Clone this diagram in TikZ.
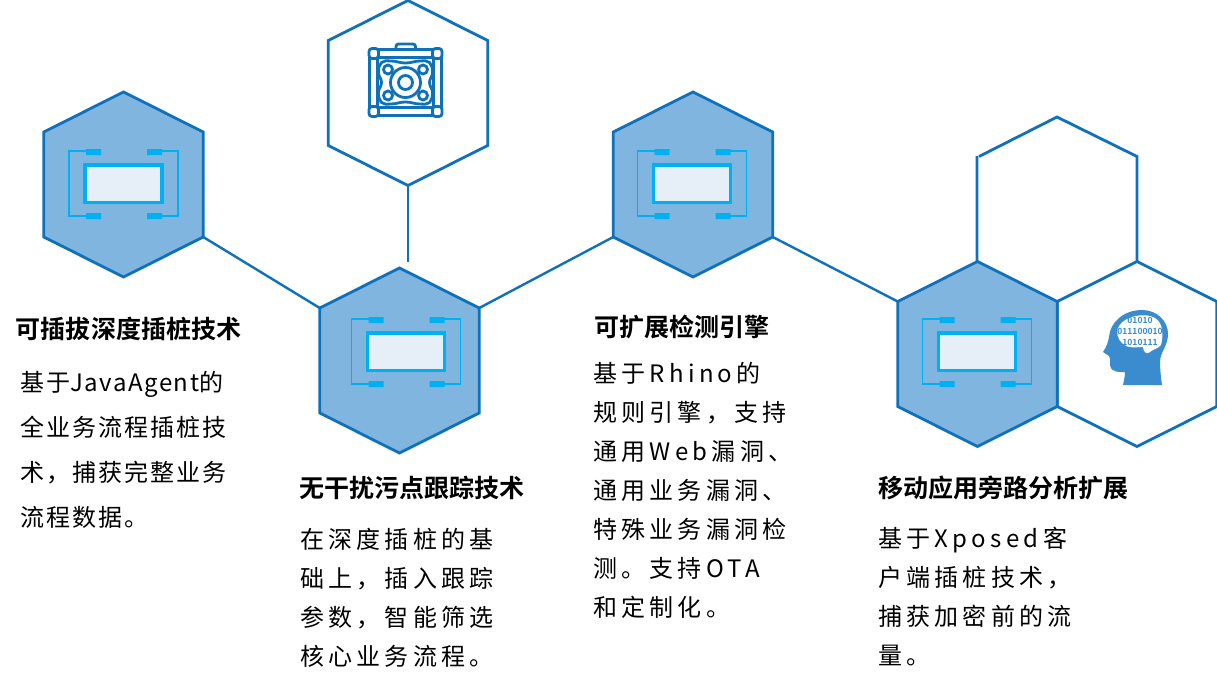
\documentclass[tikz,border=0pt]{standalone}
\usepackage{fontspec}
\setmainfont{Noto Sans CJK SC}
\newfontfamily\bodya{Noto Sans CJK SC}[LetterSpace=8.5]
\newfontfamily\bodyl{Noto Sans CJK SC}[LetterSpace=6.5]
\newfontfamily\bodyb{Noto Sans CJK SC}[LetterSpace=18]
\newfontfamily\headf{Noto Sans CJK SC}[BoldFont={Noto Sans CJK SC Bold}]
\definecolor{hexline}{HTML}{0F71BA}
\definecolor{hexfill}{HTML}{7FB5DF}
\definecolor{chipc}{HTML}{00B0F0}
\definecolor{chipf}{HTML}{E6EFF8}
\definecolor{headc}{HTML}{3A8CCF}
\tikzset{
  x=1pt,y=-1pt,
  hexedge/.style={draw=hexline,line width=2.8pt,line join=miter},
  link/.style={draw=hexline,line width=2.4pt},
  title/.style={anchor=north west,inner sep=0pt,outer sep=0pt,font=\headf\bfseries\fontsize{25}{30}\selectfont},
  bodyone/.style={anchor=north west,inner sep=0pt,outer sep=0pt,align=left,font=\bodya\fontsize{24}{45}\selectfont},
  body/.style={anchor=north west,inner sep=0pt,outer sep=0pt,align=left,font=\bodyb\fontsize{24}{39}\selectfont},
  icon/.style={draw=hexline,line width=2.8pt,fill=none},
  pics/hexcell/.style={code={
    \coordinate (-t) at (0,-92.5);
    \coordinate (-ur) at (79.75,-52.5);
    \coordinate (-lr) at (79.75,52.5);
    \coordinate (-b) at (0,92.5);
    \coordinate (-ll) at (-79.75,52.5);
    \coordinate (-ul) at (-79.75,-52.5);
    \path[hexedge,fill=#1] (-t) -- (-ur) -- (-lr) -- (-b) -- (-ll) -- (-ul) -- cycle;
  }},
  pics/chip/.style={code={
    \draw[chipc,line width=1.4pt] (-32,-33.5) -- (-54.5,-33.5) -- (-54.5,31.5) -- (-32,31.5);
    \draw[chipc,line width=1.4pt] (32,-33.5) -- (54.5,-33.5) -- (54.5,31.5) -- (32,31.5);
    \fill[chipc] (-37.5,-35.5) rectangle (-22.5,-29.5) (23.5,-35.5) rectangle (38.5,-29.5)
                 (-37.5,28.5) rectangle (-22.5,34.5) (23.5,28.5) rectangle (38.5,34.5);
    \draw[chipc,fill=chipf,line width=3.4pt] (-38.5,-19.5) rectangle (38.5,18);
  }}
}
\begin{document}
\begin{tikzpicture}
\useasboundingbox (0,0) rectangle (1217,685);
% white hexagon behind, open at its upper left corner
\coordinate (h6a) at (979,156.5);
\coordinate (h6b) at (1057,117);
\coordinate (h6c) at (1137,156.5);
\coordinate (h6d) at (1137,262);
\coordinate (h6f) at (977,262);
\coordinate (h6g) at (977,156);
\draw[hexedge] (h6a) -- (h6b) -- (h6c) -- (h6d) (h6f) -- (h6g);
\pic (h2) at (408,93) {hexcell=white};
\pic (h7) at (1137,354) {hexcell=white};
\pic (h1) at (123.5,184.5) {hexcell=hexfill};
\pic (h3) at (399.5,360.5) {hexcell=hexfill};
\pic (h4) at (693,184.5) {hexcell=hexfill};
\pic (h5) at (977.5,354) {hexcell=hexfill};
\coordinate (stub) at (408,262);
\path[link] (h1-lr) -- (h3-ul);
\path[link] (h2-b) -- (stub);
\path[link] (h3-ur) -- (h4-ll);
\path[link] (h4-lr) -- (h5-ul);
\pic at (123.5,184.5) {chip};
\pic at (406,352.5) {chip};
\pic at (692,184.5) {chip};
\pic at (977,352.5) {chip};
% suitcase icon
\begin{scope}[shift={(405.5,82.5)}]
  \draw[icon,rounded corners=2.5pt] (-9.5,-33) -- (-9.5,-38.5) -- (10,-38.5) -- (10,-33);
  \draw[icon] (-28,-33) -- (28,-33) (-28,-25) -- (28,-25) (-28,25) -- (28,25) (-28,33) -- (28,33);
  \draw[icon] (-36,-26) -- (-36,26) (-28,-26) -- (-28,26) (28,-26) -- (28,26) (36,-26) -- (36,26);
  \foreach \sx/\sy in {-1/-1,1/-1,-1/1,1/1}
    \draw[icon,fill=white,rounded corners=3pt] (\sx*36.5,\sy*34) -- (\sx*36.5,\sy*24) -- (\sx*27,\sy*24) -- (\sx*27,\sy*34) -- cycle;
  \draw[icon] plot[smooth cycle,tension=0.75] coordinates {(0,-19.5) (14,-21.5) (24,-20) (27,-10) (24,0) (27,10) (24,20) (14,21.5) (0,19.5) (-14,21.5) (-24,20) (-27,10) (-24,0) (-27,-10) (-24,-20) (-14,-21.5)};
  \draw[icon] (0,0) circle (15) (0,0) circle (7);
  \foreach \sx/\sy in {-1/-1,1/-1,-1/1,1/1}
    \draw[icon] (\sx*17.5,\sy*13) circle (4.5);
\end{scope}
% head icon
\fill[headc] (1142,310) .. controls (1157,310) and (1168,321) .. (1168,334)
  .. controls (1168,346) and (1160,352) .. (1160,362) .. controls (1160,370) and (1161,378) .. (1162,385)
  -- (1123,385) .. controls (1124,380) and (1125,376) .. (1125,372) .. controls (1120,372) and (1111,373) .. (1110,365)
  .. controls (1110,361) and (1111,358) .. (1109,356) -- (1103,352) .. controls (1107,346) and (1108,342) .. (1109,337)
  .. controls (1110,322) and (1124,310) .. (1142,310) -- cycle;
\fill[white] (1119,326) .. controls (1125,316) and (1145,312) .. (1155,318) .. controls (1164,323) and (1163,338) .. (1161,345)
  .. controls (1158,349) and (1153,349) .. (1150,352) .. controls (1147,355) and (1143,352) .. (1143,347)
  .. controls (1137,347) and (1128,349) .. (1123,344) .. controls (1118,340) and (1115,332) .. (1119,326) -- cycle;
\node[inner sep=0pt,text=headc,font=\headf\bfseries\fontsize{8.5}{11}\selectfont,align=center] (brain) at (1140,331) {01010\\011100010\\1010111};
% titles
\node[title] (t1) at (16,317) {可插拔深度插桩技术};
\node[title] (t3) at (299,476) {无干扰污点跟踪技术};
\node[title] (t4) at (594,315) {可扩展检测引擎};
\node[title] (t5) at (878,476) {移动应用旁路分析扩展};
% bodies
\node[bodyone] (b1) at (20,371) {基于{\bodyl JavaAgent}的\\全业务流程插桩技\\术，捕获完整业务\\流程数据。};
\node[body] (b3) at (300,528) {在深度插桩的基\\础上，插入跟踪\\参数，智能筛选\\核心业务流程。};
\node[body] (b4) at (593,362) {基于Rhino的\\规则引擎，支持\\通用Web漏洞、\\通用业务漏洞、\\特殊业务漏洞检\\测。支持OTA\\和定制化。};
\node[body] (b5) at (878,527) {基于Xposed客\\户端插桩技术，\\捕获加密前的流\\量。};
\end{tikzpicture}
\end{document}
